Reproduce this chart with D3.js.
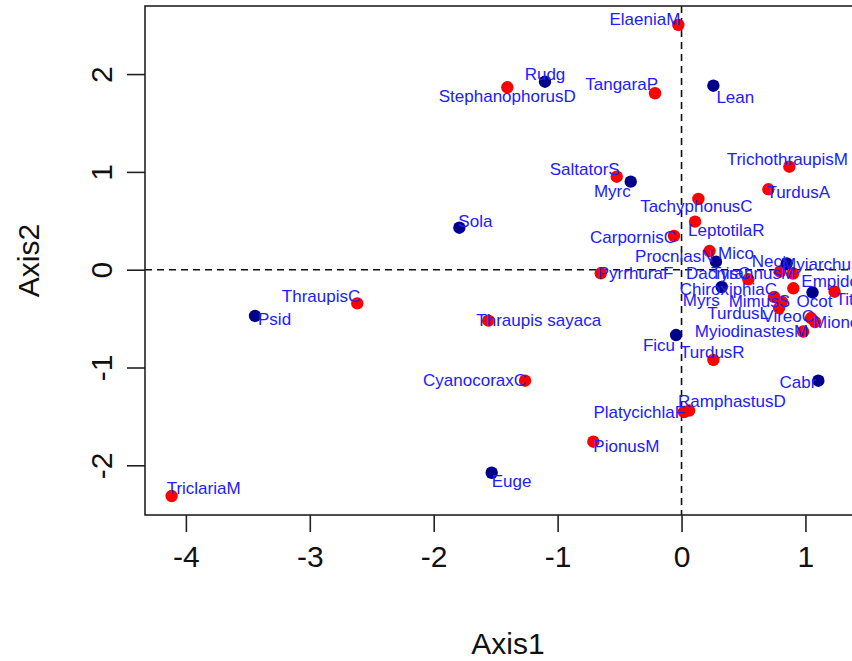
<!DOCTYPE html>
<html>
<head>
<meta charset="utf-8">
<script src="https://cdn.jsdelivr.net/npm/d3@7/dist/d3.min.js"></script>
<style>
  html, body { margin: 0; padding: 0; background: #fff; }
  svg { display: block; font-family: "Liberation Sans", Arial, sans-serif; }
</style>
</head>
<body>
<svg id="chart" width="852" height="661"></svg>
<script>
// Bird species scores (red) on the first two ordination axes
const birdNames = ["ElaeniaM","StephanophorusD","TangaraP","TrichothraupisM","TurdusA","SaltatorS",
  "TachyphonusC","LeptotilaR","CarpornisC","ProcniasN","PyrrhuraF","DacnisC","TyrannusM","MyiarchusS",
  "EmpidonomusV","TityraC","ChiroxiphiaC","MimusS","TurdusL","VireoC","MionectesR","MyiodinastesM",
  "TurdusR","ThraupisC","Thraupis sayaca","CyanocoraxC","PlatycichlaF","RamphastusD","PionusM","TriclariaM"];
const birdAxis1 = [-0.026,-1.406,-0.214,0.870,0.701,-0.523,0.136,0.109,-0.061,0.226,-0.652,0.539,0.900,0.795,
  0.902,1.235,0.747,0.811,0.787,1.045,1.077,0.981,0.257,-2.617,-1.559,-1.263,0.020,0.061,-0.712,-4.115];
const birdAxis2 = [2.502,1.865,1.804,1.053,0.822,0.951,0.723,0.491,0.345,0.191,-0.037,-0.098,-0.039,-0.020,
  -0.190,-0.225,-0.279,-0.330,-0.392,-0.494,-0.535,-0.632,-0.923,-0.344,-0.521,-1.135,-1.455,-1.440,-1.759,-2.314];

// Plant genus scores (dark blue)
const plantNames = ["Rudg","Lean","Sola","Myrc","Mico","Nect","Myrs","Ocot","Psid","Ficu","Cabr","Euge"];
const plantAxis1 = [-1.102,0.257,-1.793,-0.410,0.278,0.849,0.324,1.057,-3.442,-0.044,1.104,-1.532];
const plantAxis2 = [1.922,1.881,0.429,0.900,0.082,0.065,-0.177,-0.233,-0.473,-0.668,-1.135,-2.076];

// Tick values
const xTicks = [-4,-3,-2,-1,0,1];
const yTicks = [-2,-1,0,1,2];

// Label placement: [text-anchor, dx, dy] relative to the point (layout only)
const birdLabelPlace = [
  ["end",2,-5],["middle",0,9],["end",3,-9],["middle",-2,-7],["start",-2,3],["end",3,-7],
  ["middle",-2,8],["start",-7,9],["end",2,2],["end",4,5],["start",-3,0],["end",2,-6],["end",2,0],["start",2,-7],
  ["start",8,-7],["start",1,8],["end",3,-7],["end",8,0],["end",-10,5],["end",3,-2],["start",-2,0],["end",5,0],
  ["middle",-1,-7],["end",3,-7],["start",-12,0],["end",1,0],["end",1,0],["start",-11,-9],["start",0,5],["start",-5,-8]];
const plantLabelPlace = [
  ["middle",0,-7],["start",3,12],["start",-1,-6],["end",0,10],["start",2,-8],["end",0,-2],
  ["end",-2,13],["middle",2,9],["start",3,4],["end",-1,10],["end",-2,2],["start",0,9]];

const svg = d3.select("#chart");
const plotL = 145, plotR = 871, plotT = 6, plotB = 515;

const x = d3.scaleLinear().domain([-4.33, 1.529]).range([plotL, plotR]);
const y = d3.scaleLinear().domain([-2.508, 2.696]).range([plotB, plotT]);

const birds = birdNames.map((n, i) => ({name: n, a1: birdAxis1[i], a2: birdAxis2[i], place: birdLabelPlace[i]}));
const plants = plantNames.map((n, i) => ({name: n, a1: plantAxis1[i], a2: plantAxis2[i], place: plantLabelPlace[i]}));

// Tick labels use a plain hyphen for negatives
const tickFmt = d => String(d);

// Axes
const xAxis = svg.append("g").attr("transform", `translate(0,${plotB})`)
  .call(d3.axisBottom(x).tickValues(xTicks).tickSize(17).tickPadding(14).tickFormat(tickFmt));
const yAxis = svg.append("g").attr("transform", `translate(${plotL},0)`)
  .call(d3.axisLeft(y).tickValues(yTicks).tickSize(18).tickPadding(0).tickFormat(tickFmt));
[xAxis, yAxis].forEach(g => {
  g.select(".domain").remove();
  g.selectAll(".tick line").attr("stroke", "#222").attr("stroke-width", 1.6);
  g.selectAll(".tick text").attr("fill", "#111").style("font-size", "30px")
    .style("font-family", "'Liberation Sans', Arial, sans-serif");
});
xAxis.selectAll(".tick text").attr("dy", "0.71em");
yAxis.selectAll(".tick text")
  .attr("x", null)
  .attr("text-anchor", "middle")
  .attr("transform", "translate(-44,0) rotate(-90)")
  .attr("dy", "0.35em");

// Zero reference lines
svg.append("line").attr("x1", plotL).attr("x2", plotR).attr("y1", y(0)).attr("y2", y(0))
  .attr("stroke", "#111").attr("stroke-width", 1.6).attr("stroke-dasharray", "7,5");
svg.append("line").attr("x1", x(0)).attr("x2", x(0)).attr("y1", plotT).attr("y2", plotB)
  .attr("stroke", "#111").attr("stroke-width", 1.6).attr("stroke-dasharray", "7,5");

// Plot box
svg.append("rect").attr("x", plotL).attr("y", plotT).attr("width", plotR - plotL).attr("height", plotB - plotT)
  .attr("fill", "none").attr("stroke", "#222").attr("stroke-width", 1.6);

// Axis titles
svg.append("text").attr("x", (plotL + plotR) / 2).attr("y", 643).attr("text-anchor", "middle")
  .attr("dominant-baseline", "central").style("font-size", "30px").attr("fill", "#111").text("Axis1");
svg.append("text").attr("transform", `translate(28,${(plotT + plotB) / 2}) rotate(-90)`).attr("text-anchor", "middle")
  .attr("dominant-baseline", "central").style("font-size", "30px").attr("fill", "#111").text("Axis2");

// Points
svg.append("g").selectAll("circle").data(birds).join("circle")
  .attr("cx", d => x(d.a1)).attr("cy", d => y(d.a2)).attr("r", 6.2).attr("fill", "#ff0000");
svg.append("g").selectAll("circle").data(plants).join("circle")
  .attr("cx", d => x(d.a1)).attr("cy", d => y(d.a2)).attr("r", 6.2).attr("fill", "#00008b");

// Labels
svg.append("g").selectAll("text").data(birds.concat(plants)).join("text")
  .attr("x", d => x(d.a1) + d.place[1]).attr("y", d => y(d.a2) + d.place[2])
  .attr("text-anchor", d => d.place[0]).attr("dominant-baseline", "central")
  .style("font-size", "17px").attr("fill", "#2020ff").text(d => d.name);
</script>
</body>
</html>
